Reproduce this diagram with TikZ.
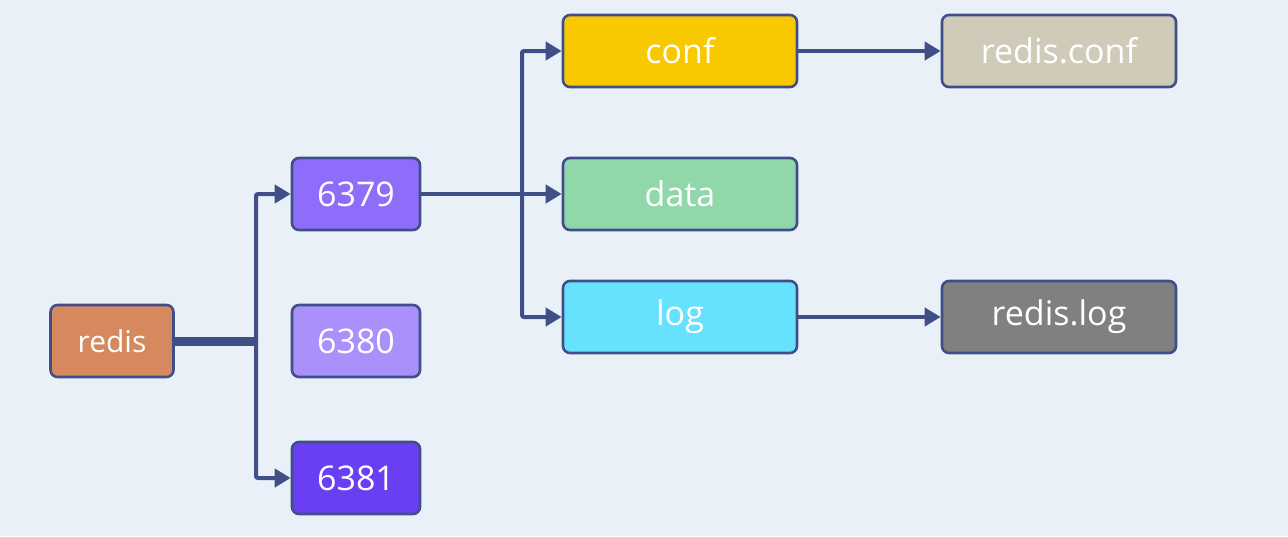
\documentclass[tikz,border=0pt]{standalone}
\usepackage{fontspec}
\setmainfont{Open Sans}
\usetikzlibrary{arrows.meta}
\definecolor{bg}{HTML}{EAF0F8}
\definecolor{edge}{HTML}{414F88}
\definecolor{credis}{HTML}{D6885E}
\definecolor{cA}{HTML}{8F6CF9}
\definecolor{cB}{HTML}{A990FA}
\definecolor{cC}{HTML}{6A3FF3}
\definecolor{cconf}{HTML}{F8C800}
\definecolor{cdata}{HTML}{90D8AA}
\definecolor{clog}{HTML}{66E2FF}
\definecolor{crconf}{HTML}{CFCBB8}
\definecolor{crlog}{HTML}{808080}
\tikzset{
  box/.style={draw=edge, line width=2.6pt, rounded corners=7pt, minimum height=72pt,
    text=white, font=\fontsize{34}{40}\selectfont, inner sep=0pt},
  small/.style={box, minimum width=128pt},
  mid/.style={box, minimum width=234pt},
  conn/.style={draw=edge, line width=4pt, -{Triangle[length=16pt,width=18pt]}},
  plain/.style={draw=edge, line width=4pt},
  thick conn/.style={draw=edge, line width=9pt}
}
\begin{document}
\begin{tikzpicture}[x=1pt,y=-1pt]
\fill[bg] (0,0) rectangle (1288,536);
\useasboundingbox (0,0) rectangle (1288,536);
\node[box, minimum width=123pt, fill=credis, font=\fontsize{30}{36}\selectfont] (redis) at (112,341) {redis};
\node[small, fill=cA] (p6379) at (356,194) {6379};
\node[small, fill=cB] (p6380) at (356,341) {6380};
\node[small, fill=cC] (p6381) at (356,478) {6381};
\node[mid, fill=cconf] (conf) at (680,51) {conf};
\node[mid, fill=cdata] (data) at (680,194) {data};
\node[mid, fill=clog] (log) at (680,317) {log};
\node[mid, fill=crconf] (rconf) at (1059,51) {redis.conf};
\node[mid, fill=crlog] (rlog) at (1059,317) {redis.log};
\coordinate (j1) at (256,341);
\coordinate (j2) at (522,194);
\draw[thick conn] (redis.east) -- (j1);
\draw[conn, rounded corners=2pt] (j1) |- (p6379.west);
\draw[conn, rounded corners=2pt] (j1) |- (p6381.west);
\draw[plain] (p6379.east) -- (j2);
\draw[conn] (j2) -- (data.west);
\draw[conn, rounded corners=2pt] (j2) |- (conf.west);
\draw[conn, rounded corners=2pt] (j2) |- (log.west);
\draw[conn] (conf.east) -- (rconf.west);
\draw[conn] (log.east) -- (rlog.west);
\end{tikzpicture}
\end{document}
